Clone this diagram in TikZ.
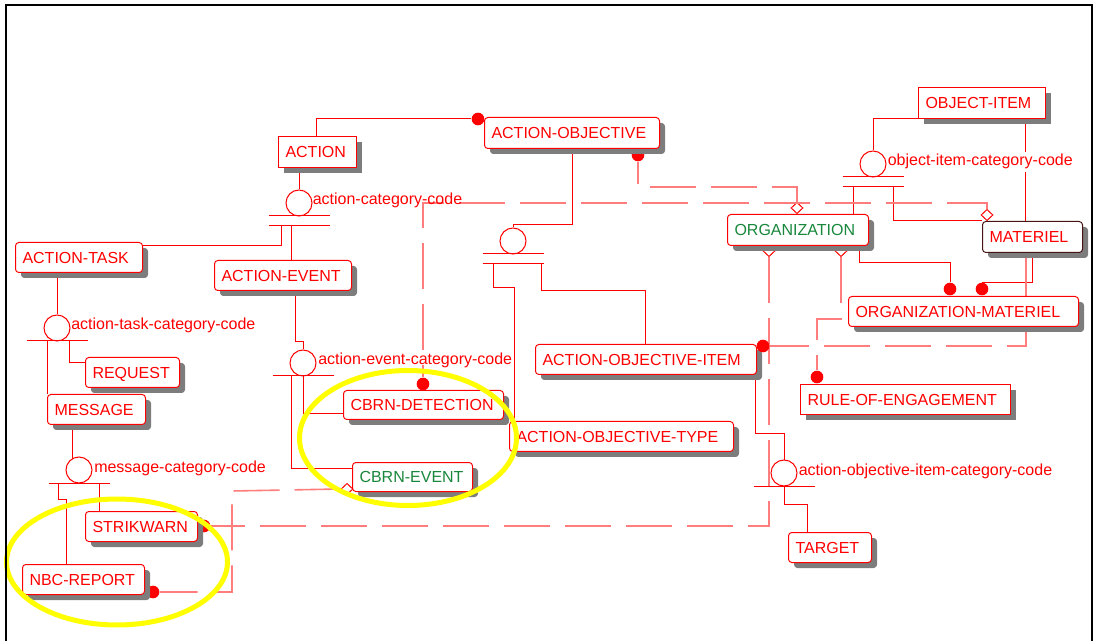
\documentclass[tikz,border=0pt]{standalone}
\usepackage{fontspec}
\setmainfont{Liberation Sans}
\usetikzlibrary{calc,shapes.geometric}
\pgfdeclarelayer{bg}
\pgfsetlayers{bg,main}
\definecolor{erred}{RGB}{255,0,0}
\definecolor{dashred}{RGB}{255,125,125}
\definecolor{ergreen}{RGB}{25,135,60}
\definecolor{shadowgray}{RGB}{125,125,125}
\definecolor{matborder}{RGB}{70,20,20}
\definecolor{hiyellow}{RGB}{255,255,0}
% #1 name, #2 x1, #3 y1, #4 x2, #5 y2, #6 corner style, #7 border colour, #8 text colour, #9 text
\newcommand\entity[9]{%
  \pgfmathsetmacro\entW{(#4-#2)*0.75}%
  \pgfmathsetmacro\entTW{(#4-#2-14)*0.75}%
  \pgfmathsetmacro\entH{(#5-#3)*0.75}%
  \fill[shadowgray,#6] (#2+6,#3+6) rectangle (#4+6,#5+6);
  \node[ent,#6,draw=#7,text=#8,anchor=north west,minimum width=\entW pt,
        text width=\entTW pt,minimum height=\entH pt] (#1) at (#2,#3) {\mbox{#9}};
}
\begin{document}
\begin{tikzpicture}[x=0.75pt,y=-0.75pt,
  ent/.style={fill=white,line width=0.75pt,inner xsep=5.25pt,inner ysep=0pt,align=left,
              font=\fontsize{12}{14}\selectfont,text height=8.6pt,text depth=0pt},
  rnd/.style={rounded corners=2.5pt},
  sharpbox/.style={sharp corners},
  catc/.style={circle,draw=erred,line width=0.75pt,minimum size=19.5pt,inner sep=0pt},
  catlabel/.style={text=erred,font=\fontsize{12}{14}\selectfont,inner sep=0pt,anchor=base west},
  rel/.style={draw=erred,line width=0.75pt},
  nrel/.style={draw=dashred,line width=1.2pt,dash pattern=on 34.5pt off 11.25pt},
  dotm/.style={circle,fill=erred,minimum size=9.5pt,inner sep=0pt},
  dmd/.style={diamond,draw=erred,fill=white,line width=0.75pt,minimum width=9pt,minimum height=8.5pt,inner sep=0pt},
  bar/.style={draw=erred,line width=0.75pt}]
\useasboundingbox (0,0) rectangle (1096,641);

% ---------------- entities ----------------
\entity{act}{278}{136}{356}{167}{sharpbox}{erred}{erred}{ACTION}
\entity{ao}{484}{117}{659}{148}{rnd}{erred}{erred}{ACTION-OBJECTIVE}
\entity{oi}{918}{87}{1045}{118}{sharpbox}{erred}{erred}{OBJECT-ITEM}
\entity{org}{727}{214}{868}{245}{rnd}{erred}{ergreen}{ORGANIZATION}
\entity{mat}{982}{221}{1082}{252}{rnd}{matborder}{erred}{MATERIEL}
\entity{om}{848}{296}{1078}{326}{rnd}{erred}{erred}{ORGANIZATION-MATERIEL}
\entity{at}{15}{242}{142}{272}{rnd}{erred}{erred}{ACTION-TASK}
\entity{ae}{214}{260}{351}{290}{rnd}{erred}{erred}{ACTION-EVENT}
\entity{req}{85}{357}{179}{387}{rnd}{erred}{erred}{REQUEST}
\entity{msg}{47}{394}{145}{424}{rnd}{erred}{erred}{MESSAGE}
\entity{cd}{343}{390}{503}{419}{rnd}{erred}{erred}{CBRN-DETECTION}
\entity{ce}{352}{462}{472}{491}{rnd}{erred}{ergreen}{CBRN-EVENT}
\entity{aot}{509}{421}{733}{451}{rnd}{erred}{erred}{ACTION-OBJECTIVE-TYPE}
\entity{aoi}{535}{344}{756}{374}{rnd}{erred}{erred}{ACTION-OBJECTIVE-ITEM}
\entity{roe}{800}{384}{1010}{414}{sharpbox}{erred}{erred}{RULE-OF-ENGAGEMENT}
\entity{tgt}{788}{532}{871}{562}{rnd}{erred}{erred}{TARGET}
\entity{sw}{85}{511}{197}{541}{rnd}{erred}{erred}{STRIKWARN}
\entity{nbc}{22}{564}{144}{594}{rnd}{erred}{erred}{NBC-REPORT}

% ---------------- categories ----------------
\node[catc] (c1) at (299,203) {};
\node[catc] (c2) at (57,328) {};
\node[catc] (c3) at (303,363) {};
\node[catc] (c4) at (79,470) {};
\node[catc] (c5) at (873,164) {};
\node[catc] (c6) at (513,241) {};
\node[catc] (c7) at (784,473) {};
\foreach \c in {c1,c2,c3,c4,c5,c6,c7}
  \draw[bar] ($(\c)+(-30.5,13)$) -- ++(61,0);
\foreach \c in {c1,c5,c6}
  \draw[bar] ($(\c)+(-30.5,23)$) -- ++(61,0);
\node[catlabel] (l1) at ($(c1)+(13.5,2)$) {action-category-code};
\node[catlabel] (l2) at ($(c2)+(14,2)$) {action-task-category-code};
\node[catlabel] (l3) at ($(c3)+(15,2)$) {action-event-category-code};
\node[catlabel] (l4) at ($(c4)+(15,2)$) {message-category-code};
\node[catlabel,fill=white,inner ysep=2pt] (l5) at ($(c5)+(14.5,2)$) {object-item-category-code};
\node[catlabel] (l7) at ($(c7)+(14.5,2)$) {action-objective-item-category-code};

% ---------------- connectors (behind the boxes) ----------------
\begin{pgfonlayer}{bg}
  % dots and diamonds
  \node[dotm] (dAO) at (478,119) {};
  \node[dotm] (dAO2) at (638,155) {};
  \node[dotm] (dCD) at (423,384) {};
  \node[dotm] (dSW) at (204,526) {};
  \node[dotm] (dNBC) at (153,592) {};
  \node[dotm] (dOM1) at (950,289) {};
  \node[dotm] (dOM2) at (982,289) {};
  \node[dotm] (dROE) at (817,377) {};
  \node[dmd] (k1) at (797,208) {};
  \node[dmd] (k2) at (987,215) {};
  \node[dmd] (k3) at (769,251) {};
  \node[dmd] (k4) at (841,251) {};
  \node[dmd] (k6) at (347,489) {};
  \coordinate (dAOI) at (763,346);

  % identifying / solid relationships
  \draw[rel] (act.north -| 316,0) |- (dAO);
  \draw[rel] (c1.north |- act.south) -- (c1.north);
  \draw[rel] (281,226) |- (at.east |- 0,246);
  \draw[rel] (291,226) -- (ae.north -| 291,0);
  \draw[rel] (c2.north |- at.south) -- (c2.north);
  \draw[rel] (47,341) -- (msg.north -| 47,0);
  \draw[rel] (69,341) |- (req.west |- 0,363);
  \draw[rel] (ae.south -| 295,0) |- (303,342) -- (c3.north);
  \draw[rel] (303,376) |- (cd.west |- 0,414);
  \draw[rel] (291,376) |- (ce.west |- 0,468);
  \draw[rel] (msg.south -| 72,0) -- (72,459);
  \draw[rel] (58,483) |- (66,499) -- (nbc.north -| 66,0);
  \draw[rel] (99,483) -- (sw.north -| 99,0);
  \draw[rel] (ao.south -| 572,0) |- (513,225) -- (c6.north);
  \draw[rel] (493,264) |- (514,288) -- (aot.north -| 514,0);
  \draw[rel] (541,264) |- (645,291) -- (aoi.north -| 645,0);
  \draw[rel] (oi.south west) -| (c5.north);
  \draw[rel] (853,187) -- (org.north -| 853,0);
  \draw[rel] (893,187) |- (mat.north west);
  \draw[rel] (oi.south -| 1025,0) -- (mat.north -| 1025,0);
  \draw[rel] (org.south -| 859,0) |- (950,263) -- (dOM1);
  \draw[rel] (mat.south -| 1032,0) |- (dOM2 |- 0,283) -- (dOM2);
  \draw[rel] (aoi.south -| 755,0) |- (784,434) -- (c7.north);
  \draw[rel] (784,486) |- (807,504) -- (tgt.north -| 807,0);

  % non-identifying / dashed relationships
  \draw[nrel,dash phase=18pt] (dAO2) -- (dAO2 |- 0,187) -| (k1.north);
  \draw[nrel] (k2.north) |- (423,203) -- (dCD);
  \draw[nrel] (k3.south) |- (dSW);
  \draw[nrel] (k4.south) |- (817,319) -- (dROE);
  \draw[nrel] (dAOI) -- (dAOI -| 1026,0) -- (mat.south -| 1026,0);
  \draw[nrel] (k6.west) -- (232,491) |- (dNBC);
\end{pgfonlayer}

\node[dotm] (dAOIdot) at (dAOI) {};

% ---------------- highlights ----------------
\draw[hiyellow,line width=3.75pt] (408,438) ellipse (108.5 and 67.5);
\draw[hiyellow,line width=3.75pt] (117,562) ellipse (110.5 and 63);

% ---------------- frame ----------------
\draw[black,line width=1.5pt] (6,641) -- (6,5) -- (1092,5) -- (1092,641);
\end{tikzpicture}
\end{document}
